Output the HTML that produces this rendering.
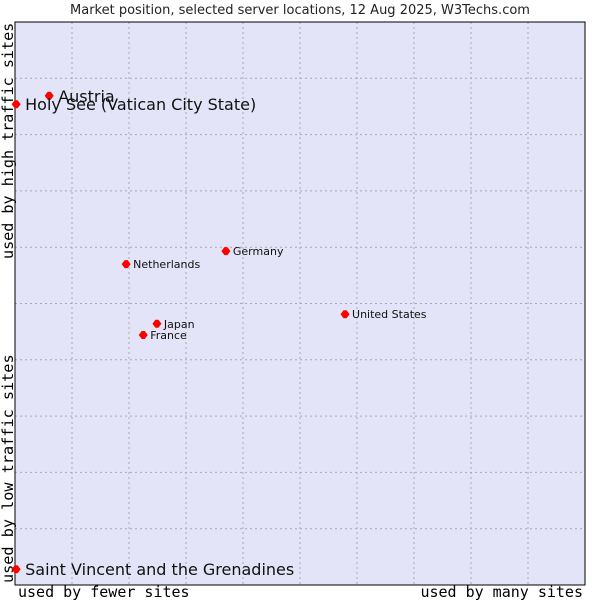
<!DOCTYPE html>
<html><head><meta charset="utf-8"><style>
body{margin:0;background:#fff;}
svg{display:block;}
</style></head><body>
<svg id="c" width="600" height="600" xmlns="http://www.w3.org/2000/svg">
<text x="300" y="14" text-anchor="middle" font-family="DejaVu Sans, sans-serif" font-size="13" fill="#222">Market position, selected server locations, 12 Aug 2025, W3Techs.com</text>
<rect x="15" y="22" width="570" height="563" fill="#e3e4f8" stroke="#000" stroke-width="1"/>
<g id="grid"></g>
<rect x="15" y="22" width="570" height="563" fill="none" stroke="#000" stroke-width="1"/>
<text x="18" y="597" font-family="DejaVu Sans Mono, monospace" font-size="15" fill="#000">used by fewer sites</text>
<text x="583" y="597" text-anchor="end" font-family="DejaVu Sans Mono, monospace" font-size="15" fill="#000">used by many sites</text>
<text transform="translate(13,583) rotate(-90)" font-family="DejaVu Sans Mono, monospace" font-size="15.2" fill="#000">used by low traffic sites</text>
<text transform="translate(13,259) rotate(-90)" font-family="DejaVu Sans Mono, monospace" font-size="15.1" fill="#000">used by high traffic sites</text>
<g id="pts"></g>
</svg>
<script>
const names = ["Austria","Holy See (Vatican City State)","Netherlands","Germany","Japan","France","United States","Saint Vincent and the Grenadines"];
const xVals = [6.0,0.2,19.5,37.0,24.9,22.5,57.9,0.2];
const yVals = [86.9,85.4,57.0,59.3,46.4,44.4,48.1,2.8];
const bigLabel = [true,true,false,false,false,false,false,true];
const ns="http://www.w3.org/2000/svg";
const X0=15,X1=585,Y0=585,Y1=22;
function sx(v){return X0+(X1-X0)*v/100;}
function sy(v){return Y0-(Y0-Y1)*v/100;}
const grid=document.getElementById('grid');
for(let i=1;i<10;i++){
  const l=document.createElementNS(ns,'line');
  l.setAttribute('x1',sx(i*10));l.setAttribute('x2',sx(i*10));l.setAttribute('y1',Y1);l.setAttribute('y2',Y0);
  l.setAttribute('stroke','#aaa');l.setAttribute('stroke-dasharray','2,3');
  
  
  grid.appendChild(l);
  const h=document.createElementNS(ns,'line');
  h.setAttribute('y1',sy(i*10));h.setAttribute('y2',sy(i*10));h.setAttribute('x1',X0);h.setAttribute('x2',X1);
  h.setAttribute('stroke','#aaa');h.setAttribute('stroke-dasharray','2,3');
  
  
  grid.appendChild(h);
}
const pts=document.getElementById('pts');
names.forEach((n,i)=>{
  const x=sx(xVals[i]),y=sy(yVals[i]);
  const d=document.createElementNS(ns,'polygon');
  d.setAttribute('points',`${x-4.5},${y} ${x-1.5},${y-4} ${x+1.5},${y-4} ${x+4.5},${y} ${x+1.5},${y+4} ${x-1.5},${y+4}`);
  d.setAttribute('fill','#f00');
  
  
  pts.appendChild(d);
  const t=document.createElementNS(ns,'text');
  const big=bigLabel[i];
  t.setAttribute('x',x+(big?9:7));
  t.setAttribute('y',y+(big?6:4));
  t.setAttribute('font-family','DejaVu Sans, sans-serif');
  t.setAttribute('font-size',big?16:11);
  t.setAttribute('fill','#111');
  t.textContent=n;
  
  
  pts.appendChild(t);
});
</script>
</body></html>
